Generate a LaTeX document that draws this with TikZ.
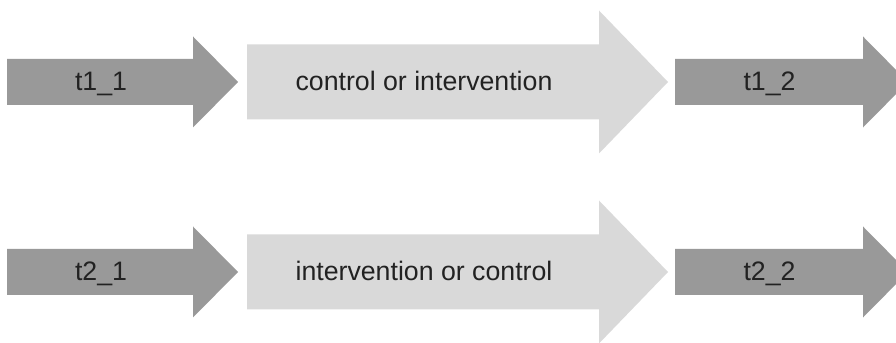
\documentclass[tikz,border=0pt]{standalone}
\usepackage{fontspec}
\setmainfont{Liberation Sans}
\usepackage{xcolor}
\usepackage{tikz}
\definecolor{stepdark}{HTML}{999999}
\definecolor{steplight}{HTML}{D9D9D9}
\definecolor{steptext}{HTML}{222222}

\begin{document}
\begin{tikzpicture}[scale=0.2]
\tikzstyle{every node}+=[inner sep=0pt, anchor=base, text=steptext, font=\fontsize{15.2}{18}\selectfont]
\useasboundingbox (0,0) rectangle (89.6,-34.3);
% first row
\fill [stepdark] (0.7,-5.9) -- (19.3,-5.9) -- (19.3,-3.65) -- (23.8,-8.2) -- (19.3,-12.75) -- (19.3,-10.5) -- (0.7,-10.5) -- cycle;
\node (t11) at (10.1,-9.05) {t1\_1};
\fill [steplight] (24.7,-4.45) -- (59.9,-4.45) -- (59.9,-1.05) -- (66.8,-8.2) -- (59.9,-15.35) -- (59.9,-11.95) -- (24.7,-11.95) -- cycle;
\node (ctrl1) at (42.4,-9.05) {control or intervention};
\fill [stepdark] (67.5,-5.9) -- (86.3,-5.9) -- (86.3,-3.65) -- (90.8,-8.2) -- (86.3,-12.75) -- (86.3,-10.5) -- (67.5,-10.5) -- cycle;
\node (t12) at (76.95,-9.05) {t1\_2};
% second row
\fill [stepdark] (0.7,-24.9) -- (19.3,-24.9) -- (19.3,-22.65) -- (23.8,-27.2) -- (19.3,-31.75) -- (19.3,-29.5) -- (0.7,-29.5) -- cycle;
\node (t21) at (10.1,-28.05) {t2\_1};
\fill [steplight] (24.7,-23.45) -- (59.9,-23.45) -- (59.9,-20.05) -- (66.8,-27.2) -- (59.9,-34.35) -- (59.9,-30.95) -- (24.7,-30.95) -- cycle;
\node (ctrl2) at (42.4,-28.05) {intervention or control};
\fill [stepdark] (67.5,-24.9) -- (86.3,-24.9) -- (86.3,-22.65) -- (90.8,-27.2) -- (86.3,-31.75) -- (86.3,-29.5) -- (67.5,-29.5) -- cycle;
\node (t22) at (76.95,-28.05) {t2\_2};
\end{tikzpicture}
\end{document}
